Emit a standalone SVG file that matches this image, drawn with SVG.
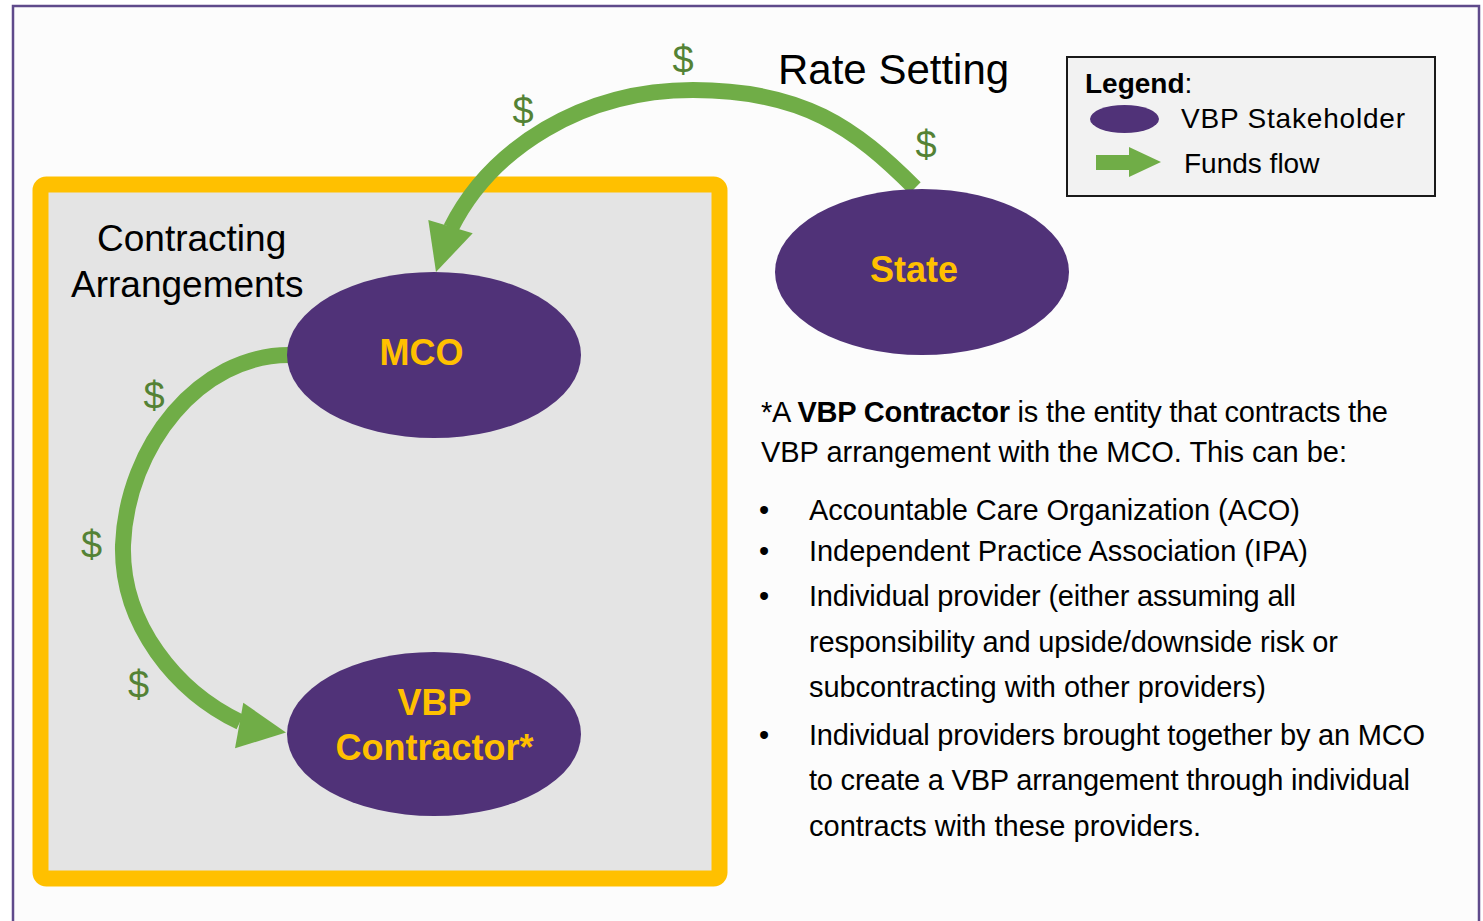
<svg xmlns="http://www.w3.org/2000/svg" width="1483" height="921" viewBox="0 0 1483 921">
<style>
  text { font-family: "Liberation Sans", Arial, sans-serif; }
  .node { fill: #503278; }
  .lbl { fill: #ffc000; font-weight: bold; font-size: 36px; text-anchor: middle; }
  .flow { fill: none; stroke: #70ad47; stroke-width: 16; }
  .head { fill: #70ad47; }
  .dol { fill: #548235; font-size: 38px; text-anchor: middle; }
  .body { fill: #000; font-size: 29px; }
  .title { fill: #000; font-size: 37px; }
</style>
<rect x="0" y="0" width="1483" height="921" fill="#ffffff"/>
<rect x="13" y="6" width="1466" height="940" fill="#fcfcfc" stroke="#5f4a8b" stroke-width="2.5"/>

<g id="frame">
  <rect x="40.5" y="184.5" width="679" height="694" rx="6" fill="#e4e4e4" stroke="#ffc000" stroke-width="16"/>
  <text class="title" x="97" y="251">Contracting</text>
  <text class="title" x="71" y="297">Arrangements</text>
</g>

<text x="778" y="84" font-size="42" fill="#000">Rate Setting</text>

<g id="legend">
  <rect x="1067" y="57" width="368" height="139" fill="#f2f2f2" stroke="#1a1a1a" stroke-width="2"/>
  <text x="1085" y="93" font-size="28" fill="#000"><tspan font-weight="bold">Legend</tspan>:</text>
  <ellipse cx="1124.5" cy="119" rx="34.5" ry="14" class="node"/>
  <text x="1181" y="128" font-size="28" fill="#000" textLength="224" lengthAdjust="spacing">VBP Stakeholder</text>
  <polygon class="head" points="1096,155 1129,155 1129,147 1161,162 1129,177 1129,170 1096,170"/>
  <text x="1184" y="173" font-size="28" fill="#000">Funds flow</text>
</g>

<g id="connectors">
  <path class="flow" d="M915,188 C855,128 803,90 693,90 C583,90 491,148 451,228"/>
  <polygon class="head" points="428.3,220 472.7,233.3 436,272"/>
  <path class="flow" d="M289,355 C200,355 127,445 123,545 C121,625 177,692 240,722"/>
  <polygon class="head" points="243.3,702.7 286,732.5 235,748.3"/>
  <text class="dol" x="683" y="73">$</text>
  <text class="dol" x="523" y="124">$</text>
  <text class="dol" x="926" y="158">$</text>
  <text class="dol" x="154" y="409">$</text>
  <text class="dol" x="91.5" y="558">$</text>
  <text class="dol" x="138.5" y="698">$</text>
</g>

<g id="state">
  <ellipse cx="922" cy="272" rx="147" ry="83" class="node"/>
  <text class="lbl" x="914" y="282">State</text>
</g>
<g id="mco">
  <ellipse cx="434" cy="355" rx="147" ry="83" class="node"/>
  <text class="lbl" x="421.5" y="365">MCO</text>
</g>
<g id="vbp-contractor">
  <ellipse cx="434" cy="734" rx="147" ry="82" class="node"/>
  <text class="lbl" x="434.5" y="715">VBP</text>
  <text class="lbl" x="434.5" y="760">Contractor*</text>
</g>

<g id="note">
  <text class="body" x="761" y="422" textLength="627" lengthAdjust="spacing">*A <tspan font-weight="bold">VBP Contractor</tspan> is the entity that contracts the</text>
  <text class="body" x="761" y="462" textLength="586" lengthAdjust="spacing">VBP arrangement with  the MCO. This can be:</text>
  <text class="body" x="759" y="520">•</text>
  <text class="body" x="809" y="520" textLength="491" lengthAdjust="spacing">Accountable Care Organization (ACO)</text>
  <text class="body" x="759" y="561">•</text>
  <text class="body" x="809" y="561" textLength="499" lengthAdjust="spacing">Independent Practice Association (IPA)</text>
  <text class="body" x="759" y="606">•</text>
  <text class="body" x="809" y="606" textLength="487" lengthAdjust="spacing">Individual provider (either assuming all</text>
  <text class="body" x="809" y="652" textLength="529" lengthAdjust="spacing">responsibility and upside/downside risk or</text>
  <text class="body" x="809" y="697" textLength="457" lengthAdjust="spacing">subcontracting with other providers)</text>
  <text class="body" x="759" y="745">•</text>
  <text class="body" x="809" y="745" textLength="616" lengthAdjust="spacing">Individual providers brought together by an MCO</text>
  <text class="body" x="809" y="790" textLength="601" lengthAdjust="spacing">to create a VBP arrangement through individual</text>
  <text class="body" x="809" y="836" textLength="392" lengthAdjust="spacing">contracts with  these providers.</text>
</g>
</svg>
